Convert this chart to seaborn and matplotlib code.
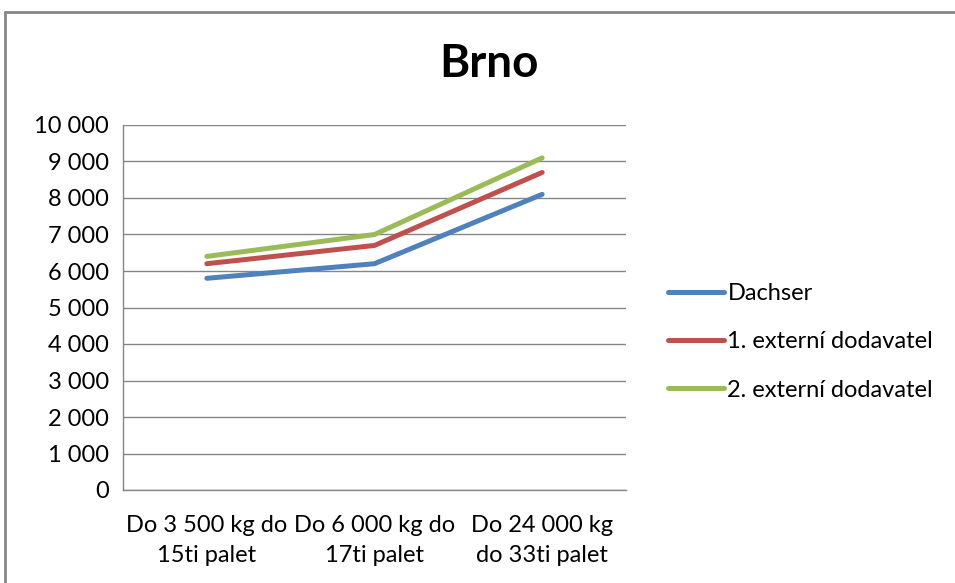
import matplotlib
matplotlib.use('Agg')
import matplotlib.pyplot as plt
import matplotlib.ticker as mticker
from matplotlib.lines import Line2D
import seaborn as sns
import pandas as pd

categories = ["Do 3 500 kg do\n15ti palet", "Do 6 000 kg do\n17ti palet", "Do 24 000 kg\ndo 33ti palet"]
series_names = ["Dachser", "1. externí dodavatel", "2. externí dodavatel"]
dachser = [5800, 6200, 8100]
externi_1 = [6200, 6700, 8700]
externi_2 = [6400, 7000, 9100]
colors = ["#4F81BD", "#C0504D", "#9BBB59"]

rows = []
for name, vals in zip(series_names, [dachser, externi_1, externi_2]):
    for cat, v in zip(categories, vals):
        rows.append({"Kategorie": cat, "Cena": v, "Serie": name})
data = pd.DataFrame(rows)

sns.set_style("white")
plt.rcParams['font.family'] = ['Lato', 'DejaVu Sans']
plt.rcParams['text.color'] = 'black'
plt.rcParams['xtick.color'] = 'black'
plt.rcParams['ytick.color'] = 'black'

fig = plt.figure(figsize=(9.55, 5.83), dpi=100)
ax = fig.add_axes([123 / 955, 1 - 490 / 583, (626 - 123) / 955, (490 - 125) / 583])

sns.lineplot(data=data, x="Kategorie", y="Cena", hue="Serie", palette=colors,
             linewidth=3.6, sort=False, ax=ax)

ax.set_xlim(-0.5, 2.5)
ax.set_ylim(0, 10000)
ax.yaxis.set_major_locator(mticker.MultipleLocator(1000))
ax.yaxis.set_major_formatter(mticker.FuncFormatter(lambda v, p: f"{int(v):,}".replace(",", " ")))
ax.grid(axis='y', color='#868686', linewidth=1)
ax.set_axisbelow(True)

# category ticks sit between bands, labels centered
ax.set_xticks([0, 1, 2])
ax.set_xticklabels(categories, fontsize=17)
ax.tick_params(axis='x', length=0, pad=18)
ax.set_xticks([-0.5, 0.5, 1.5, 2.5], minor=True)
ax.tick_params(axis='x', which='minor', length=6, color='#868686', width=1, direction='out')
ax.tick_params(axis='y', length=6, color='#868686', labelcolor='black', width=1, direction='out',
               labelsize=17, pad=4)
for lbl in ax.get_xticklabels():
    lbl.set_linespacing(1.55)

ax.set_xlabel("")
ax.set_ylabel("")
for side in ['top', 'right']:
    ax.spines[side].set_visible(False)
for side in ['left', 'bottom']:
    ax.spines[side].set_color('#868686')
    ax.spines[side].set_linewidth(1)

handles, labels = ax.get_legend_handles_labels()
ax.legend(handles, labels, loc='center left', bbox_to_anchor=(659 / 955, 1 - 342 / 583),
          bbox_transform=fig.transFigure, frameon=False, fontsize=17,
          handlelength=2.35, handletextpad=0.15, labelspacing=1.15, borderaxespad=0)

fig.text(489 / 955, 1 - 64 / 583, "Brno", ha='center', va='center', fontsize=33, fontweight='bold')

# chart frame (top and left edges visible)
fig.add_artist(Line2D([5 / 955, 5 / 955], [0, 1 - 12 / 583], transform=fig.transFigure,
                      color='#868686', linewidth=2))
fig.add_artist(Line2D([5 / 955, 1.01], [1 - 12 / 583, 1 - 12 / 583], transform=fig.transFigure,
                      color='#868686', linewidth=2))

fig.savefig("out.png", dpi=100)
